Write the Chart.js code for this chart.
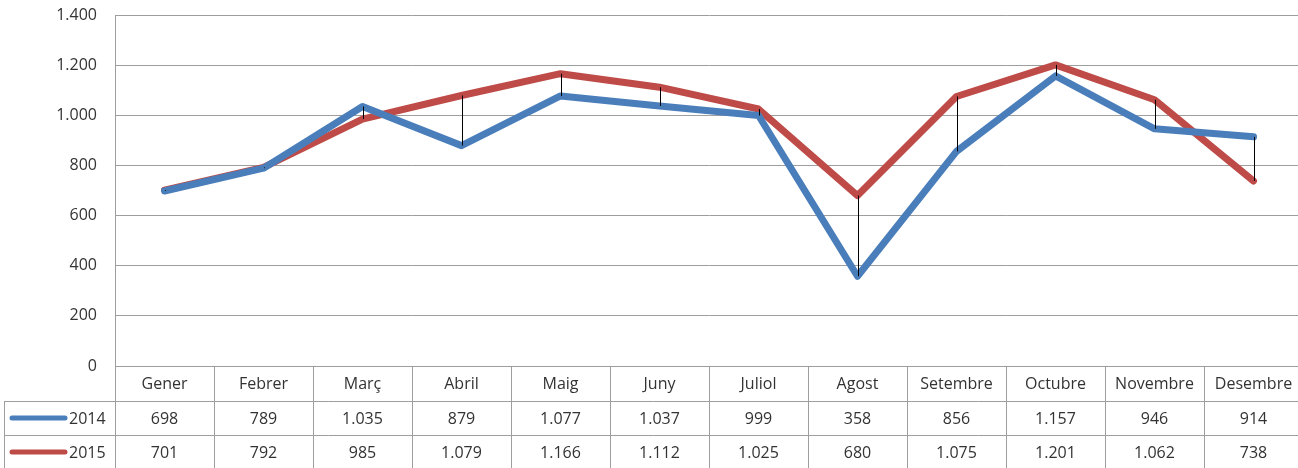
<!DOCTYPE html>
<html>
<head>
<meta charset="utf-8">
<script src="https://cdn.jsdelivr.net/npm/chart.js@4/dist/chart.umd.min.js"></script>
<style>
  html, body { margin: 0; padding: 0; background: #fff; overflow: hidden; }
  #wrap { width: 1303px; height: 468px; }
</style>
</head>
<body>
<div id="wrap"><canvas id="chart" width="1303" height="468"></canvas></div>
<script>
// chart data
const months = ['Gener', 'Febrer', 'Març', 'Abril', 'Maig', 'Juny', 'Juliol', 'Agost', 'Setembre', 'Octubre', 'Novembre', 'Desembre'];
const values2014 = [698, 789, 1035, 879, 1077, 1037, 999, 358, 856, 1157, 946, 914];
const values2015 = [701, 792, 985, 1079, 1166, 1112, 1025, 680, 1075, 1201, 1062, 738];
const yTicks = [0, 200, 400, 600, 800, 1000, 1200, 1400];

const FONT = "'Open Sans', sans-serif";
const TEXT_COLOR = '#333333';
const GRID_COLOR = '#9e9e9e';
const BLUE = '#4a7ebb';
const RED = '#be4b48';

// thousands separator as in the source (1.035)
function fmt(v) {
  return String(v).replace(/\B(?=(\d{3})+(?!\d))/g, '.');
}

// vertical high-low lines between the two series
const highLowLines = {
  id: 'highLowLines',
  afterDatasetsDraw(chart) {
    const { ctx, scales: { x, y } } = chart;
    ctx.save();
    ctx.strokeStyle = '#000';
    ctx.lineWidth = 1;
    months.forEach((m, i) => {
      const px = Math.round(x.getPixelForValue(i)) + 0.5;
      ctx.beginPath();
      ctx.moveTo(px, y.getPixelForValue(values2014[i]));
      ctx.lineTo(px, y.getPixelForValue(values2015[i]));
      ctx.stroke();
    });
    ctx.restore();
  }
};

// data table under the plot
const dataTable = {
  id: 'dataTable',
  afterDraw(chart) {
    const { ctx, chartArea, scales: { x } } = chart;
    const top = chartArea.bottom;
    const rowH = [35, 34, 34];
    const rowTop = [top, top + rowH[0], top + rowH[0] + rowH[1]];
    const bottom = chart.height;
    const colW = x.getPixelForValue(1) - x.getPixelForValue(0);
    const left = chartArea.left;
    const tableLeft = 4;

    ctx.save();
    ctx.strokeStyle = GRID_COLOR;
    ctx.lineWidth = 1;

    // horizontal rules
    [rowTop[1], rowTop[2]].forEach((ry) => {
      ctx.beginPath();
      ctx.moveTo(tableLeft, Math.round(ry) + 0.5);
      ctx.lineTo(chart.width, Math.round(ry) + 0.5);
      ctx.stroke();
    });

    // left border of legend cells
    ctx.beginPath();
    ctx.moveTo(tableLeft + 0.5, rowTop[1]);
    ctx.lineTo(tableLeft + 0.5, bottom);
    ctx.stroke();

    // axis line continued through the table
    ctx.beginPath();
    ctx.moveTo(Math.round(left) + 0.5, top);
    ctx.lineTo(Math.round(left) + 0.5, bottom);
    ctx.stroke();

    // column separators
    for (let i = 1; i <= months.length; i++) {
      const bx = Math.round(left + i * colW) + 0.5;
      ctx.beginPath();
      ctx.moveTo(bx, top);
      ctx.lineTo(bx, bottom);
      ctx.stroke();
    }

    // text
    ctx.fillStyle = TEXT_COLOR;
    ctx.font = '16px ' + FONT;
    ctx.textAlign = 'center';
    ctx.textBaseline = 'middle';
    months.forEach((m, i) => {
      const cx = x.getPixelForValue(i);
      ctx.fillText(m, cx, rowTop[0] + rowH[0] / 2 + 1);
      ctx.fillText(fmt(values2014[i]), cx, rowTop[1] + rowH[1] / 2 + 1);
      ctx.fillText(fmt(values2015[i]), cx, rowTop[2] + rowH[2] / 2 + 1);
    });

    // legend keys
    const series = [
      { label: '2014', color: BLUE, y: rowTop[1] + rowH[1] / 2 },
      { label: '2015', color: RED, y: rowTop[2] + rowH[2] / 2 }
    ];
    series.forEach((s) => {
      ctx.strokeStyle = s.color;
      ctx.lineWidth = 5;
      ctx.lineCap = 'round';
      ctx.beginPath();
      ctx.moveTo(12, s.y);
      ctx.lineTo(65, s.y);
      ctx.stroke();
      ctx.textAlign = 'left';
      ctx.fillStyle = TEXT_COLOR;
      ctx.fillText(s.label, 69, s.y + 1);
    });
    ctx.restore();
  }
};

new Chart(document.getElementById('chart'), {
  type: 'line',
  data: {
    labels: months,
    datasets: [
      {
        label: '2014',
        data: values2014,
        borderColor: BLUE,
        borderWidth: 7,
        pointRadius: 0,
        borderCapStyle: 'round',
        borderJoinStyle: 'round',
        tension: 0
      },
      {
        label: '2015',
        data: values2015,
        borderColor: RED,
        borderWidth: 7,
        pointRadius: 0,
        borderCapStyle: 'round',
        borderJoinStyle: 'round',
        tension: 0
      }
    ]
  },
  options: {
    responsive: false,
    animation: false,
    devicePixelRatio: 1,
    layout: { padding: { top: 15, bottom: 102, left: 0, right: 0 } },
    plugins: {
      legend: { display: false },
      tooltip: { enabled: false }
    },
    scales: {
      x: {
        offset: true,
        grid: { display: false },
        border: { display: false },
        ticks: { display: false },
        afterFit(scale) { scale.height = 0; }
      },
      y: {
        min: 0,
        max: 1400,
        afterBuildTicks(scale) { scale.ticks = yTicks.map((v) => ({ value: v })); },
        grid: { color: GRID_COLOR, lineWidth: 1, drawTicks: false },
        border: { display: true, color: GRID_COLOR, width: 1 },
        ticks: {
          padding: 18,
          color: TEXT_COLOR,
          font: { family: FONT, size: 16 },
          callback: (v) => fmt(v)
        },
        afterFit(scale) {
          scale.width = 115;
          scale.paddingTop = 0;
          scale.paddingBottom = 0;
        }
      }
    }
  },
  plugins: [highLowLines, dataTable]
});
</script>
</body>
</html>
